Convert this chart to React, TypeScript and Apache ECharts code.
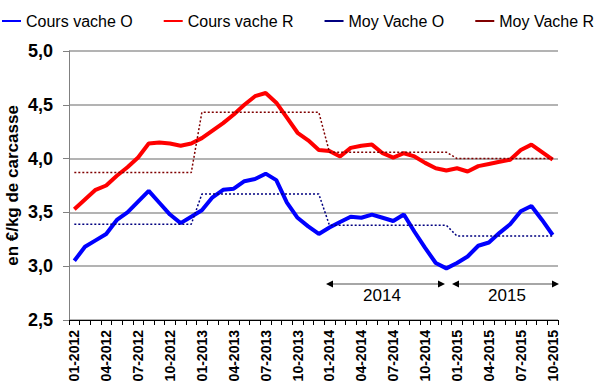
import React, { useEffect, useRef } from "react";
import * as echarts from "echarts";

const months: string[] = [
  "01-2012","02-2012","03-2012","04-2012","05-2012","06-2012","07-2012","08-2012","09-2012","10-2012","11-2012","12-2012",
  "01-2013","02-2013","03-2013","04-2013","05-2013","06-2013","07-2013","08-2013","09-2013","10-2013","11-2013","12-2013",
  "01-2014","02-2014","03-2014","04-2014","05-2014","06-2014","07-2014","08-2014","09-2014","10-2014","11-2014","12-2014",
  "01-2015","02-2015","03-2015","04-2015","05-2015","06-2015","07-2015","08-2015","09-2015","10-2015",
];

const coursVacheO: number[] = [
  3.05, 3.18, 3.24, 3.30, 3.43, 3.50, 3.60, 3.70, 3.59, 3.48, 3.40, 3.46,
  3.52, 3.64, 3.71, 3.72, 3.79, 3.81, 3.86, 3.80, 3.59, 3.45, 3.37, 3.30,
  3.36, 3.41, 3.46, 3.45, 3.48, 3.45, 3.42, 3.48, 3.32, 3.17, 3.03, 2.98,
  3.03, 3.09, 3.19, 3.22, 3.31, 3.39, 3.51, 3.56, 3.43, 3.29,
];

const coursVacheR: number[] = [
  3.53, 3.62, 3.71, 3.75, 3.84, 3.92, 4.01, 4.14, 4.15, 4.14, 4.12, 4.14,
  4.19, 4.26, 4.33, 4.41, 4.50, 4.58, 4.61, 4.52, 4.38, 4.24, 4.17, 4.08,
  4.07, 4.02, 4.10, 4.12, 4.13, 4.05, 4.01, 4.05, 4.02, 3.96, 3.91, 3.89,
  3.91, 3.88, 3.93, 3.95, 3.97, 3.99, 4.08, 4.13, 4.06, 3.99,
];

// yearly averages (2012, 2013, 2014, 2015)
const years: string[] = ["2012", "2013", "2014", "2015"];
const moyVacheO: number[] = [3.39, 3.67, 3.38, 3.28];
const moyVacheR: number[] = [3.87, 4.43, 4.06, 4.0];

const yTicks = { min: 2.5, max: 5.0, interval: 0.5 };

const FONT = "Liberation Sans, Arial, sans-serif";

function expandYearly(avgs: number[]): number[] {
  return months.map((m) => {
    const y = m.slice(3);
    return avgs[years.indexOf(y)];
  });
}

export default function App() {
  const ref = useRef<HTMLDivElement>(null);
  useEffect(() => {
    if (!ref.current) return;
    const chart = echarts.init(ref.current, undefined, { renderer: "svg" });
    const arrowY = 284;
    const gray = "#a6a6a6";
    const arrow = (x1: number, x2: number) => [
      { type: "line", shape: { x1: x1 + 4, y1: arrowY, x2: x2 - 4, y2: arrowY }, style: { stroke: gray, lineWidth: 2 } },
      { type: "polygon", shape: { points: [[x1, arrowY], [x1 + 7, arrowY - 3.5], [x1 + 7, arrowY + 3.5]] }, style: { fill: "#000" } },
      { type: "polygon", shape: { points: [[x2, arrowY], [x2 - 7, arrowY - 3.5], [x2 - 7, arrowY + 3.5]] }, style: { fill: "#000" } },
    ];
    chart.setOption({
      animation: false,
      backgroundColor: "#fff",
      textStyle: { fontFamily: FONT },
      legend: {
        top: 13,
        left: 2,
        width: 700,
        padding: 0,
        itemWidth: 19,
        itemHeight: 2,
        itemGap: 31,
        icon: "rect",
        textStyle: { fontSize: 16, color: "#000", fontFamily: FONT },
        data: ["Cours vache O", "Cours vache R", "Moy Vache O", "Moy Vache R"],
      },
      grid: { left: 69, right: 39, top: 51, bottom: 71, containLabel: false, outerBoundsMode: "none" },
      xAxis: {
        type: "category",
        data: months,
        boundaryGap: true,
        axisLine: { lineStyle: { color: "#000", width: 1 } },
        axisTick: { show: true, interval: 0, length: 5, lineStyle: { color: "#000" } },
        axisLabel: {
          interval: 2,
          rotate: 90,
          fontSize: 14,
          fontWeight: "bold",
          color: "#000",
          margin: 10,
          fontFamily: FONT,
        },
        splitLine: { show: false },
      },
      yAxis: {
        type: "value",
        min: yTicks.min,
        max: yTicks.max,
        interval: yTicks.interval,
        name: "en €/kg de carcasse",
        nameLocation: "middle",
        nameGap: 48,
        nameMoveOverlap: false,
        nameRotate: 90,
        nameTextStyle: { fontSize: 17, fontWeight: "bold", color: "#000", fontFamily: FONT },
        axisLine: { show: true, lineStyle: { color: "#808080", width: 1 } },
        axisTick: { show: true, length: 6, lineStyle: { color: "#808080" } },
        axisLabel: {
          formatter: (v: number) => v.toFixed(1).replace(".", ","),
          fontSize: 18,
          fontWeight: "bold",
          color: "#000",
          margin: 16,
          fontFamily: FONT,
        },
        splitLine: { show: true, lineStyle: { color: "#9a9a9a", width: 1.5 } },
      },
      series: [
        {
          name: "Cours vache O",
          type: "line",
          data: coursVacheO,
          symbol: "none",
          itemStyle: { color: "#0000ff" },
          lineStyle: { color: "#0000ff", width: 4 },
        },
        {
          name: "Cours vache R",
          type: "line",
          data: coursVacheR,
          symbol: "none",
          itemStyle: { color: "#ff0000" },
          lineStyle: { color: "#ff0000", width: 4 },
        },
        {
          name: "Moy Vache O",
          type: "line",
          data: expandYearly(moyVacheO),
          symbol: "none",
          itemStyle: { color: "#000080" },
          lineStyle: { color: "#000080", width: 1.5, type: [2, 2] },
        },
        {
          name: "Moy Vache R",
          type: "line",
          data: expandYearly(moyVacheR),
          symbol: "none",
          itemStyle: { color: "#800000" },
          lineStyle: { color: "#800000", width: 1.5, type: [2, 2] },
        },
      ],
      graphic: [
        ...arrow(326, 445),
        ...arrow(452, 559),
        {
          type: "text",
          x: 382,
          y: 295,
          style: { text: "2014", fontSize: 17, fontFamily: FONT, fill: "#000", align: "center", verticalAlign: "middle" },
        },
        {
          type: "text",
          x: 507,
          y: 295,
          style: { text: "2015", fontSize: 17, fontFamily: FONT, fill: "#000", align: "center", verticalAlign: "middle" },
        },
      ],
    });
    return () => chart.dispose();
  }, []);
  return (
    <div
      ref={ref}
      style={{ position: "fixed", left: 0, top: 0, width: 597, height: 391, background: "#fff" }}
    />
  );
}
